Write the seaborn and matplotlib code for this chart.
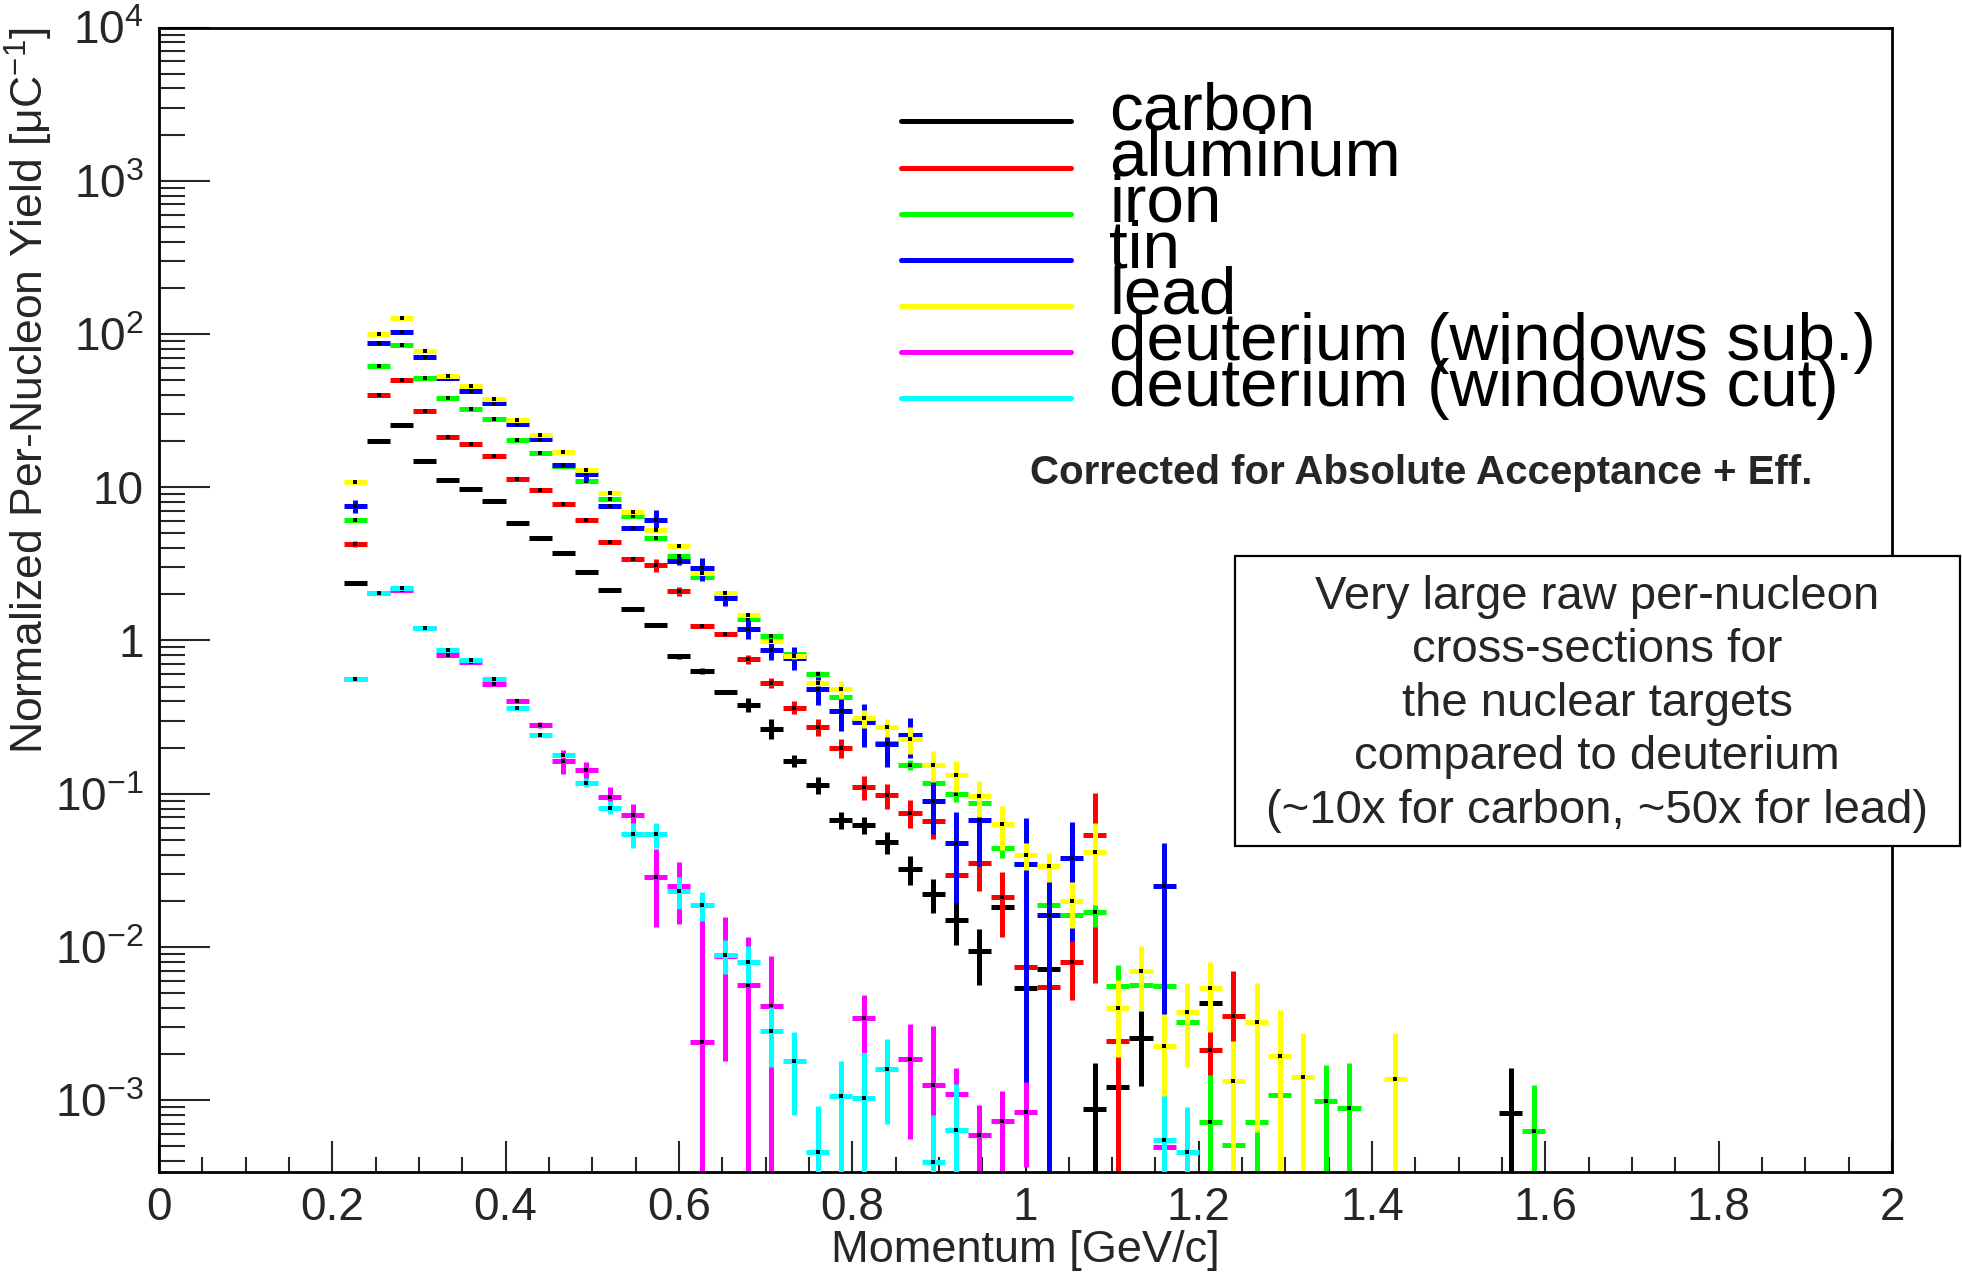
import numpy as np
import pandas as pd
import matplotlib
matplotlib.use("Agg")
import matplotlib.pyplot as plt
import seaborn as sns
from matplotlib.ticker import FixedLocator, FixedFormatter, NullFormatter
from matplotlib.lines import Line2D
from matplotlib.patches import Rectangle

nan = np.nan

# ---------------- histogram structure ----------------
n_bins = 75
p_min, p_max = 0.0, 2.0
first_bin = 8          # index of the first filled bin (bins k = 8 ... 59 listed below)

# ---------------- data (bins k = 8 .. 59) ----------------
carbon_val = [2.37, 19.9, 25.4, 14.9, 11.2, 9.77, 8.1, 5.82, 4.65, 3.75,
              2.79, 2.12, 1.61, 1.27, 0.79, 0.632, 0.464, 0.381, 0.266, 0.164,
              0.114, 0.0675, 0.0627, 0.0485, 0.0322, 0.0221, 0.0150, 0.00935, 0.0181, 0.0054,
              0.0072, nan, 8.8e-4, 0.00122, 0.00253, nan, nan, 0.0043, nan, nan,
              nan, nan, nan, nan, nan, nan, nan, nan, nan, nan, 8.3e-4, nan]
carbon_err = [0.04, 0.3, 0.4, 0.25, 0.2, 0.15, 0.15, 0.1, 0.1, 0.08,
              0.06, 0.05, 0.04, 0.04, 0.03, 0.03, 0.01, 0.04, 0.04, 0.015,
              0.015, 0.009, 0.008, 0.008, 0.007, 0.0055, 0.0047, 0.0037, 0.003, 0.0006,
              0.0008, nan, 0.00086, 0.0008, 0.0013, nan, nan, 0.0005, nan, nan,
              nan, nan, nan, nan, nan, nan, nan, nan, nan, nan, 0.0008, nan]

aluminum_val = [4.25, 39.8, 49.9, 31.3, 21.3, 19.2, 16.0, 11.3, 9.55, 7.8,
                6.15, 4.38, 3.38, 3.09, 2.10, 1.24, 1.11, 0.753, 0.531, 0.365,
                0.273, 0.20, 0.111, 0.098, 0.0754, 0.066, 0.0297, 0.0351, 0.0212, 0.0074,
                0.0055, 0.0080, 0.0538, 0.00245, nan, nan, nan, 0.00213, 0.00356, nan,
                nan, nan, nan, nan, nan, nan, nan, nan, nan, nan, nan, nan]
aluminum_err = [0.2, 0.6, 0.7, 0.45, 0.3, 0.3, 0.25, 0.17, 0.15, 0.12,
                0.1, 0.07, 0.06, 0.3, 0.15, 0.03, 0.03, 0.05, 0.04, 0.035,
                0.035, 0.028, 0.02, 0.018, 0.016, 0.015, 0.01, 0.012, 0.0095, 0.0035,
                0.0015, 0.0035, 0.048, 0.0022, nan, nan, nan, 0.0011, 0.0034, nan,
                nan, nan, nan, nan, nan, nan, nan, nan, nan, nan, nan, nan]

iron_val = [6.1, 62, 84.3, 51.9, 38, 32.6, 27.9, 20.4, 16.8, 13.7,
            10.9, 8.4, 6.47, 4.66, 3.55, 2.59, 1.95, 1.39, 1.07, 0.81,
            0.601, 0.428, 0.30, 0.215, 0.154, 0.118, 0.100, 0.0867, 0.044, 0.035,
            0.0188, 0.0162, 0.0169, 0.00559, 0.00567, 0.00559, 0.00322, 7.2e-4, 5.1e-4, 7.2e-4,
            1.08e-3, nan, 9.9e-4, 8.9e-4, nan, nan, nan, nan, nan, nan, nan, 6.3e-4]
iron_err = [0.1, 1.0, 1.3, 0.8, 0.6, 0.5, 0.4, 0.3, 0.25, 0.2,
            0.17, 0.13, 0.1, 0.08, 0.06, 0.05, 0.04, 0.03, 0.03, 0.03,
            0.03, 0.025, 0.03, 0.03, 0.012, 0.012, 0.012, 0.01, 0.006, 0.008,
            0.004, 0.004, 0.0035, 0.002, 0.0015, 0.0015, 0.0012, 7.3e-4, 5e-4, 7.3e-4,
            8e-4, nan, 7e-4, 8.5e-4, nan, nan, nan, nan, nan, nan, nan, 6.2e-4]

tin_val = [7.5, 86.9, 103.5, 71, 52, 42.7, 35.5, 25.9, 20.5, 13.9,
           12.2, 7.5, 5.4, 6.07, 3.30, 2.95, 1.88, 1.19, 0.861, 0.77,
           0.48, 0.345, 0.293, 0.21, 0.24, 0.090, 0.0475, 0.0675, nan, 0.035,
           0.0162, 0.038, nan, nan, nan, 0.0251, nan, nan, nan, nan,
           nan, nan, nan, nan, nan, nan, nan, nan, nan, nan, nan, nan]
tin_err = [0.75, 1.5, 2.0, 1.2, 0.8, 0.7, 0.6, 0.4, 0.35, 0.4,
           1.2, 0.15, 0.12, 1.0, 0.2, 0.5, 0.2, 0.16, 0.11, 0.13,
           0.1, 0.09, 0.09, 0.06, 0.07, 0.035, 0.028, 0.034, nan, 0.034,
           0.016, 0.027, nan, nan, nan, 0.0225, nan, nan, nan, nan,
           nan, nan, nan, nan, nan, nan, nan, nan, nan, nan, nan, nan]

lead_val = [10.8, 100, 127, 77, 53.5, 46, 37.7, 27.6, 21.8, 17.1,
            12.9, 9.19, 6.91, 5.25, 4.11, 2.77, 2.05, 1.46, 0.99, 0.79,
            0.531, 0.48, 0.31, 0.271, 0.226, 0.154, 0.133, 0.096, 0.063, 0.0397,
            0.0338, 0.0198, 0.0418, 0.0040, 0.0070, 0.00227, 0.00374, 0.00537, 0.00134, 0.00322,
            0.00195, 0.00141, nan, nan, nan, 0.00138, nan, nan, nan, nan, nan, nan]
lead_err = [0.2, 2, 2.5, 1.5, 1.0, 0.9, 0.7, 0.5, 0.4, 0.3,
            0.25, 0.18, 0.13, 0.12, 0.08, 0.06, 0.04, 0.03, 0.03, 0.03,
            0.025, 0.065, 0.04, 0.035, 0.045, 0.035, 0.03, 0.025, 0.02, 0.008,
            0.0073, 0.0066, 0.023, 0.0021, 0.0031, 0.0014, 0.0021, 0.0026, 0.0011, 0.0026,
            0.0019, 0.00135, nan, nan, nan, 0.00135, nan, nan, nan, nan, nan, nan]

dsub_val = [0.557, 2.03, 2.15, 1.21, 0.807, 0.72, 0.52, 0.403, 0.281, 0.164,
            0.142, 0.0953, 0.0724, 0.0284, 0.0251, 0.00241, 0.0087, 0.00563, 0.00414, nan,
            nan, nan, 0.00344, nan, 0.00186, 0.00126, 0.00109, 5.97e-4, 7.36e-4, 8.35e-4,
            nan, nan, nan, nan, nan, 4.94e-4, nan, nan, nan, nan,
            nan, nan, nan, nan, nan, nan, nan, nan, nan, nan, nan, nan]
dsub_err = [0.01, 0.03, 0.03, 0.02, 0.015, 0.012, 0.01, 0.01, 0.012, 0.03,
            0.018, 0.015, 0.013, 0.015, 0.011, 0.0135, 0.0069, 0.0059, 0.0046, nan,
            nan, nan, 0.0014, nan, 0.0013, 0.0018, 5.3e-4, 3.3e-4, 4.2e-4, 4.7e-4,
            nan, nan, nan, nan, nan, 4e-4, nan, nan, nan, nan,
            nan, nan, nan, nan, nan, nan, nan, nan, nan, nan, nan, nan]

dcut_val = [0.557, 2.05, 2.2, 1.21, 0.865, 0.741, 0.564, 0.362, 0.242, 0.180,
            0.118, 0.0812, 0.0542, 0.0542, 0.0232, 0.0188, 0.00885, 0.0080, 0.00284, 0.0018,
            4.62e-4, 1.07e-3, 1.04e-3, 1.6e-3, nan, 3.98e-4, 6.4e-4, nan, nan, nan,
            nan, nan, nan, nan, nan, 5.46e-4, 4.62e-4, nan, nan, nan,
            nan, nan, nan, nan, nan, nan, nan, nan, nan, nan, nan, nan]
dcut_err = [0.01, 0.03, 0.03, 0.02, 0.015, 0.012, 0.01, 0.008, 0.006, 0.005,
            0.008, 0.008, 0.01, 0.01, 0.0055, 0.004, 0.0022, 0.0022, 0.0012, 0.001,
            4.5e-4, 7.4e-4, 1.0e-3, 9e-4, nan, 4e-4, 6.4e-4, nan, nan, nan,
            nan, nan, nan, nan, nan, 5.2e-4, 4.4e-4, nan, nan, nan,
            nan, nan, nan, nan, nan, nan, nan, nan, nan, nan, nan, nan]

series_names = ["carbon", "aluminum", "iron", "tin", "lead",
                "deuterium (windows sub.)", "deuterium (windows cut)"]
series_vals = [carbon_val, aluminum_val, iron_val, tin_val, lead_val, dsub_val, dcut_val]
series_errs = [carbon_err, aluminum_err, iron_err, tin_err, lead_err, dsub_err, dcut_err]
series_colors = ["#000000", "#ff0000", "#00ff00", "#0000ff", "#ffff00", "#ff00ff", "#00ffff"]

x_ticks = [0, 0.2, 0.4, 0.6, 0.8, 1.0, 1.2, 1.4, 1.6, 1.8, 2.0]
x_ticklabels = ["0", "0.2", "0.4", "0.6", "0.8", "1", "1.2", "1.4", "1.6", "1.8", "2"]
y_ticks = [1e-3, 1e-2, 1e-1, 1, 10, 1e2, 1e3, 1e4]
y_ticklabels = [r"$\mathdefault{10^{-3}}$", r"$\mathdefault{10^{-2}}$", r"$\mathdefault{10^{-1}}$",
                "1", "10", r"$\mathdefault{10^{2}}$", r"$\mathdefault{10^{3}}$", r"$\mathdefault{10^{4}}$"]

box_lines = ["Very large raw per-nucleon", "cross-sections for", "the nuclear targets",
             "compared to deuterium", "(~10x for carbon, ~50x for lead)"]
note_text = "Corrected for Absolute Acceptance + Eff."

# ---------------- style ----------------
sns.set_theme(style="white")
plt.rcParams["font.family"] = ["Liberation Sans", "DejaVu Sans"]
plt.rcParams["mathtext.fontset"] = "custom"
plt.rcParams["mathtext.rm"] = "Liberation Sans"
plt.rcParams["mathtext.it"] = "Liberation Sans:italic"
plt.rcParams["mathtext.bf"] = "Liberation Sans:bold"

W, H = 1962, 1278
fig = plt.figure(figsize=(W / 100, H / 100), dpi=100)
fig.patch.set_facecolor("white")
ax_l, ax_r, ax_t, ax_b = 159, 1892, 27.5, 1172
ax = fig.add_axes([ax_l / W, 1 - ax_b / H, (ax_r - ax_l) / W, (ax_b - ax_t) / H])
ax.set_facecolor("white")

edges = np.linspace(p_min, p_max, n_bins + 1)
centers = 0.5 * (edges[:-1] + edges[1:])
half_w = 0.5 * (edges[1] - edges[0])

for i, (name, vals, errs, col) in enumerate(zip(series_names, series_vals, series_errs, series_colors)):
    v = np.array(vals, dtype=float)
    e = np.array(errs, dtype=float)
    k = np.arange(first_bin, first_bin + len(v))
    m = ~np.isnan(v)
    x = centers[k[m]]
    y = v[m]
    err = e[m]
    lower = np.where(err >= y, y - 1e-9, err)
    ax.errorbar(x, y, xerr=half_w, yerr=[lower, err], fmt="none", ecolor=col,
                elinewidth=3.6, capsize=0, zorder=2 + i * 0.1)
    df = pd.DataFrame({"p": x, "yield": y})
    sns.scatterplot(data=df, x="p", y="yield", ax=ax, color="black", marker="s",
                    s=5, linewidth=0, zorder=2.05 + i * 0.1)

ax.set_yscale("log")
ax.set_xlim(p_min, p_max)
ax.set_ylim(3.4e-4, 1e4)

ax.xaxis.set_major_locator(FixedLocator(x_ticks))
ax.xaxis.set_major_formatter(FixedFormatter(x_ticklabels))
ax.xaxis.set_minor_locator(FixedLocator(np.arange(0, 2.001, 0.05)))
ax.yaxis.set_major_locator(FixedLocator(y_ticks))
ax.yaxis.set_major_formatter(FixedFormatter(y_ticklabels))
minor_y = [m * 10.0 ** d for d in range(-4, 4) for m in range(2, 10)]
ax.yaxis.set_minor_locator(FixedLocator(minor_y))
ax.yaxis.set_minor_formatter(NullFormatter())

ax.tick_params(axis="x", which="major", direction="in", length=22, width=1.5,
               labelsize=33, pad=10, top=False, bottom=True)
ax.tick_params(axis="x", which="minor", direction="in", length=11, width=1.5, top=False, bottom=True)
ax.tick_params(axis="y", which="major", direction="in", length=37, width=1.5,
               labelsize=33, pad=11, left=True, right=False)
ax.tick_params(axis="y", which="minor", direction="in", length=19, width=1.5, left=True, right=False)
for s in ax.spines.values():
    s.set_linewidth(2.0)
    s.set_color("black")
    s.set_visible(True)

ax.set_xlabel("Momentum [GeV/c]", fontsize=32.5, labelpad=0)
ax.set_ylabel("Normalized Per-Nucleon Yield [μC$^{\\mathdefault{-1}}$]", fontsize=32, loc="top")
ax.yaxis.set_label_coords(-0.060, 1.0)

# ---------------- legend (overlapping entries, as in the original) ----------------
leg_y0, leg_dy = 121.4, 46.1
for i, (name, col) in enumerate(zip(series_names, series_colors)):
    yp = leg_y0 + i * leg_dy
    fig.add_artist(Line2D([901 / W, 1071 / W], [1 - yp / H, 1 - yp / H], color=col, lw=3.6))
    fig.text(1109 / W, 1 - (yp + 8) / H, name, fontsize=48.5, ha="left", va="baseline",
             color="black")

fig.text(1421 / W, 1 - 473 / H, note_text, fontsize=29, fontweight="bold",
         ha="center", va="center")

# ---------------- text box ----------------
bx0, by0, bx1, by1 = 1235, 555.6, 1959.5, 846
fig.add_artist(Rectangle((bx0 / W, 1 - by1 / H), (bx1 - bx0) / W, (by1 - by0) / H,
                         transform=fig.transFigure, facecolor="white", edgecolor="black",
                         lw=1.6, zorder=5))
for i, line in enumerate(box_lines):
    fig.text(1597 / W, 1 - (609 + i * 53.4) / H, line, fontsize=34, ha="center",
             va="baseline", zorder=6)

fig.savefig("out.png", dpi=100, facecolor="white")
